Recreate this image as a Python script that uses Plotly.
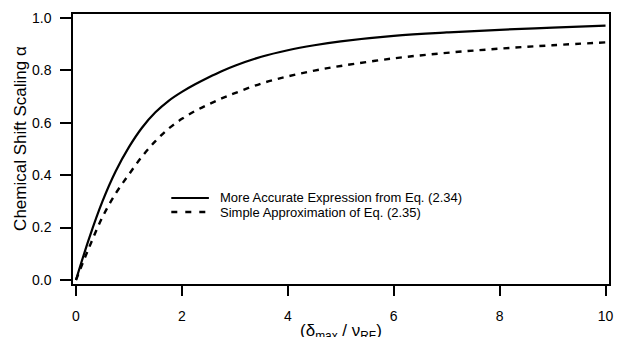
import plotly.graph_objects as go

# delta_max / nu_RF values at which the two curves are tabulated
ratio = [0, 0.25, 0.5, 0.75, 1, 1.25, 1.5, 1.75, 2, 2.25, 2.5, 2.75, 3,
         3.5, 4, 4.5, 5, 6, 7, 8, 9, 10]

# Chemical shift scaling alpha: more accurate expression, Eq. (2.34)
alpha_accurate = [0, 0.16, 0.30, 0.415, 0.507, 0.582, 0.64, 0.684, 0.718, 0.747, 0.773,
                  0.797, 0.818, 0.852, 0.877, 0.896, 0.911, 0.932, 0.945, 0.955, 0.963, 0.971]

# Chemical shift scaling alpha: simple approximation, Eq. (2.35)
alpha_simple = [0, 0.125, 0.24, 0.33, 0.403, 0.472, 0.53, 0.578, 0.615, 0.645, 0.67,
                0.693, 0.713, 0.75, 0.777, 0.799, 0.817, 0.846, 0.867, 0.883, 0.896, 0.907]

x_ticks = [0, 2, 4, 6, 8, 10]
y_ticks = [0.0, 0.2, 0.4, 0.6, 0.8, 1.0]

legend_labels = ["More Accurate Expression from Eq. (2.34)",
                 "Simple Approximation of Eq. (2.35)"]

FONT = "Liberation Sans, Arial, sans-serif"
DASH = "6px,6px"

fig = go.Figure()
fig.add_trace(go.Scatter(x=ratio, y=alpha_accurate, mode="lines",
                         line=dict(color="black", width=2.2, shape="spline", smoothing=1.0),
                         showlegend=False))
fig.add_trace(go.Scatter(x=ratio, y=alpha_simple, mode="lines",
                         line=dict(color="black", width=2.4, dash=DASH,
                                   shape="spline", smoothing=1.0),
                         showlegend=False))

# hand-placed legend: sample line + label for each series
legend_rows = [(0.313, "solid", 2.2), (0.2595, "6px,8px", 2.4)]
for (ly, dash, w), label in zip(legend_rows, legend_labels):
    fig.add_shape(type="line", xref="x", yref="y", x0=1.80, x1=2.51, y0=ly, y1=ly,
                  line=dict(color="black", width=w, dash=dash))
    fig.add_annotation(xref="x", yref="y", x=2.68, y=ly, text=label, showarrow=False,
                       xanchor="left", yanchor="middle",
                       font=dict(family=FONT, size=13, color="black"))

# axis titles
fig.add_annotation(xref="paper", yref="paper", x=0.5, y=-0.13,
                   text="(δ<sub>max</sub> / ν<sub>RF</sub>)", showarrow=False,
                   xanchor="center", yanchor="top",
                   font=dict(family=FONT, size=17, color="black"))
fig.add_annotation(xref="paper", yref="paper", x=-0.0981, y=0.539,
                   text="Chemical Shift Scaling α", showarrow=False, textangle=-90,
                   xanchor="center", yanchor="middle",
                   font=dict(family=FONT, size=17, color="black"))

axis_common = dict(showline=True, mirror=True, linecolor="black", linewidth=1.5,
                   ticks="outside", tickwidth=1.5, tickcolor="black",
                   showgrid=False, zeroline=False,
                   tickfont=dict(family=FONT, size=14, color="black"))

fig.update_xaxes(range=[-0.0562, 10.0656], tickvals=x_ticks, ticklen=10,
                 ticklabelstandoff=8, **axis_common)
fig.update_yaxes(range=[-0.0153, 1.0153], tickvals=y_ticks, tickformat=".1f",
                 ticklen=11, ticklabelstandoff=6, **axis_common)

fig.update_layout(width=619, height=337,
                  margin=dict(l=73, r=6, t=14, b=53),
                  paper_bgcolor="white", plot_bgcolor="white",
                  font=dict(family=FONT, color="black"))

fig.write_html("out.html")
